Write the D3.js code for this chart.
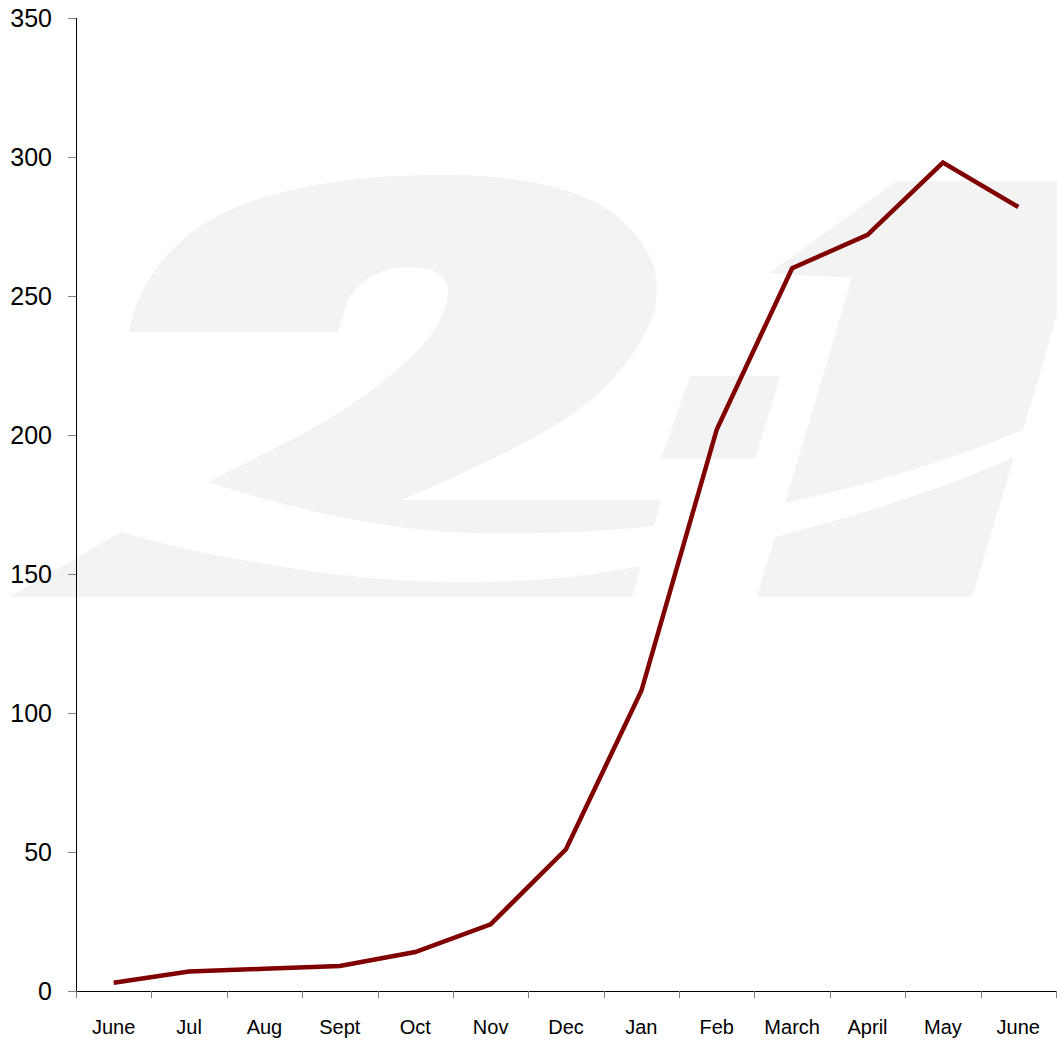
<!DOCTYPE html>
<html>
<head>
<meta charset="utf-8">
<script src="https://cdn.jsdelivr.net/npm/d3@7"></script>
<style>
  html, body { margin: 0; padding: 0; background: #fff; }
  svg { display: block; }
</style>
</head>
<body>
<svg id="chart" width="1057" height="1040"></svg>
<script>
// ---- data ----
const months = ["June", "Jul", "Aug", "Sept", "Oct", "Nov", "Dec", "Jan", "Feb", "March", "April", "May", "June"];
const values = [3, 7, 8, 9, 14, 24, 51, 108, 202, 260, 272, 298, 282];
const yTicks = [0, 50, 100, 150, 200, 250, 300, 350];

// ---- layout ----
const W = 1057, H = 1040;
const margin = { left: 76, right: 1, top: 18, bottom: 49 };
const svg = d3.select("#chart");

// background watermark "21" (decoration)
const wm = svg.append("g").attr("fill", "#f3f3f3");
wm.append("path").attr("d",
  "M129,332 C135,290 170,235 230,210 C290,182 380,174 450,175 C530,176 600,190 634,233 " +
  "C660,262 665,300 643,337 C620,380 580,415 520,445 C480,466 440,483 402,500 L661,500 L654,526 " +
  "C600,532 520,535 469,533 C400,530 320,518 208,482 C260,455 340,420 393,373 " +
  "C420,350 440,330 447,300 C452,280 440,267 410,267 C380,267 360,280 348,300 L338,332 Z");
wm.append("path").attr("d",
  "M9,597 L121,532 C200,555 280,568 360,577 C420,583 480,583 530,580 C580,577 610,572 641,566 L632,597 Z");
wm.append("path").attr("d", "M690,376 L780,376 L755,459 L661,459 Z");
wm.append("path").attr("d",
  "M769,273 L897,181 L1057,181 L1057,315 L1023,430 C950,460 870,485 785,503 L852,278 Z");
wm.append("path").attr("d",
  "M775,537 C860,515 940,490 1014,457 L972,597 L757,597 Z");

// ---- scales ----
const x = d3.scaleBand().domain(d3.range(months.length)).range([margin.left, W - margin.right]).padding(0);
const y = d3.scaleLinear().domain([0, 350]).range([H - margin.bottom - 0, margin.top]);
// y(0) should land at 991
y.range([991, 18]);

// ---- y axis ----
const yAxis = d3.axisLeft(y).tickValues(yTicks).tickSize(8).tickPadding(16).tickFormat(d3.format("d"));
const gy = svg.append("g").attr("transform", `translate(${margin.left},0)`).call(yAxis);
gy.select(".domain").attr("stroke", "#000").attr("stroke-width", 1).attr("d", `M0.5,${y(350)}V${y(0)}`);
gy.selectAll(".tick line").attr("stroke", "#808080").attr("stroke-width", 1);
gy.selectAll(".tick text")
  .attr("font-family", "'Liberation Sans', Arial, Helvetica, sans-serif")
  .attr("font-size", 25).attr("fill", "#000");

// ---- x axis ----
const gx = svg.append("g").attr("transform", `translate(0,${y(0)})`);
gx.append("line").attr("x1", margin.left).attr("x2", W - margin.right)
  .attr("y1", 0.5).attr("y2", 0.5).attr("stroke", "#000").attr("stroke-width", 1);
const bounds = d3.range(months.length + 1).map(i => i < months.length ? x(i) : x(months.length - 1) + x.bandwidth());
gx.selectAll("line.tk").data(bounds).join("line").attr("class", "tk")
  .attr("x1", d => Math.round(d) + 0.5).attr("x2", d => Math.round(d) + 0.5)
  .attr("y1", 0).attr("y2", 7).attr("stroke", "#808080").attr("stroke-width", 1);
gx.selectAll("text").data(months).join("text")
  .attr("x", (d, i) => x(i) + x.bandwidth() / 2)
  .attr("y", 43)
  .attr("text-anchor", "middle")
  .attr("font-family", "'Liberation Sans', Arial, Helvetica, sans-serif")
  .attr("font-size", 20).attr("fill", "#000")
  .text(d => d);

// ---- line ----
const line = d3.line()
  .x((d, i) => x(i) + x.bandwidth() / 2)
  .y(d => y(d));
svg.append("path").datum(values)
  .attr("d", line)
  .attr("fill", "none")
  .attr("stroke", "#800000")
  .attr("stroke-width", 4.5)
  .attr("stroke-linejoin", "miter");
</script>
</body>
</html>
